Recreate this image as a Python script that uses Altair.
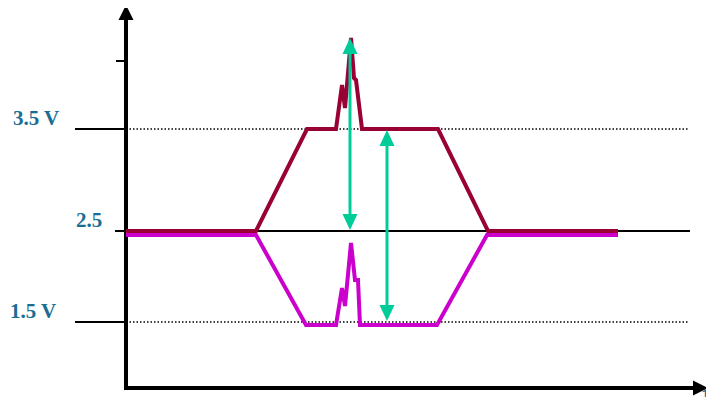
import altair as alt
import pandas as pd

# ---- data (drawing units: t = horizontal position, v = level height) ----
red_t = [0, 130, 181, 210, 216, 219, 225, 228, 230, 236, 312, 362, 492]
red_v = [157, 157, 259, 259, 303, 280, 350, 310, 308, 259, 259, 157, 157]
mag_t = [0, 130, 180, 210, 216, 219, 225, 229, 232, 234, 311, 361, 492]
mag_v = [153, 153, 63, 63, 100, 82, 145, 108, 108, 63, 63, 153, 153]

label_text = ["3.5 V", "2.5", "1.5 V", "1"]
label_t = [-113, -50, -116, 575]
label_v = [263, 161, 70, -15]
label_size = [21, 21, 21, 20]

level_v = [259, 157, 66]          # 3.5 V, 2.5, 1.5 V
top_tick_v = 327

# green double arrows: position, top tip, bottom tip
arrow_t = [224, 261]
arrow_top = [350, 258]
arrow_bot = [158, 67]

XS = alt.Scale(domain=[-118, 580], nice=False, zero=False)
YS = alt.Scale(domain=[-9, 380], nice=False, zero=False)


def X(f):
    return alt.X(f, type="quantitative", scale=XS, axis=None)


def Y(f):
    return alt.Y(f, type="quantitative", scale=YS, axis=None)


def seg_layer(rows, color, width, dash=None):
    df = pd.DataFrame(rows, columns=["t1", "v1", "t2", "v2"])
    kw = dict(color=color, strokeWidth=width)
    if dash:
        kw["strokeDash"] = dash
    return alt.Chart(df).mark_rule(**kw).encode(
        x=X("t1"), y=Y("v1"), x2="t2", y2="v2")


solid = seg_layer([
    [-11, level_v[1], 564, level_v[1]],
    [-51, level_v[0], 0, level_v[0]],
    [-51, level_v[2], 0, level_v[2]],
    [-10, top_tick_v, 0, top_tick_v],
], "black", 2)

axes = seg_layer([
    [0, -2, 0, 369],
    [-2, 0, 568, 0],
], "black", 4)

dotted = seg_layer([
    [0, level_v[0], 563, level_v[0]],
    [0, level_v[2], 563, level_v[2]],
], "black", 1.5, dash=[1.5, 2])


def trace(ts, vs, color):
    df = pd.DataFrame({"t": ts, "v": vs, "o": list(range(len(ts)))})
    return alt.Chart(df).mark_line(color=color, strokeWidth=4, strokeJoin="miter").encode(
        x=X("t"), y=Y("v"), order="o:Q")


red = trace(red_t, red_v, "#990033")
mag = trace(mag_t, mag_v, "#CC00CC")

green_rows = []
for t, a, b in zip(arrow_t, arrow_top, arrow_bot):
    green_rows.append([t, a - 14, t, b + 14])
green = seg_layer(green_rows, "#00CC99", 3)


def heads(ts, vs, shape, size, color):
    df = pd.DataFrame({"t": ts, "v": vs})
    return alt.Chart(df).mark_point(shape=shape, size=size, filled=True, opacity=1,
                                    color=color, strokeWidth=0).encode(x=X("t"), y=Y("v"))


UP = "M0,0L-0.47,1L0.47,1Z"
DOWN = "M0,0L-0.47,-1L0.47,-1Z"
g_up = heads(arrow_t, arrow_top, UP, 1024, "#00CC99")
g_down = heads(arrow_t, arrow_bot, DOWN, 1024, "#00CC99")
ax_up = heads([0], [383], "M0,0L-0.5,1L0.5,1Z", 900, "black")
ax_right = heads([582], [0], "M0,0L-1,-0.5L-1,0.5Z", 900, "black")

labels_df = pd.DataFrame({"t": label_t, "v": label_v, "txt": label_text, "s": label_size})
labels = alt.Chart(labels_df).mark_text(
    font="Liberation Serif", fontWeight="bold", color="#1B6E93",
    align="left", baseline="alphabetic").encode(
    x=X("t"), y=Y("v"), text="txt:N",
    size=alt.Size("s:Q", scale=None, legend=None))

chart = alt.layer(
    solid, dotted, axes, mag, red, green, g_up, g_down, ax_up, ax_right, labels
).properties(
    width=698, height=389, padding=0, autosize=alt.AutoSizeParams(type="none"),
    background="white"
).configure_view(stroke=None)

chart.save("out.html", embed_options={"renderer": "svg", "actions": False})
